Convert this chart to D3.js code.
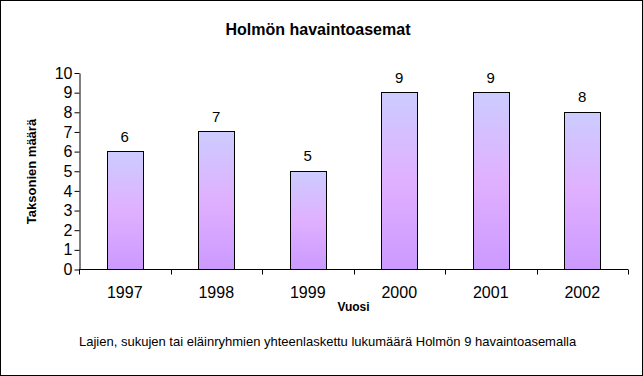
<!DOCTYPE html>
<html lang="fi">
<head>
    <meta charset="UTF-8">
    <title>Holmön havaintoasemat</title>
    <script src="https://cdn.jsdelivr.net/npm/d3@7"></script>
    <style>
        html, body { margin: 0; padding: 0; background: white; }
        svg { display: block; font-family: Arial, "Liberation Sans", sans-serif; }
    </style>
</head>
<body>
<script>
    // data
    var years = ["1997", "1998", "1999", "2000", "2001", "2002"];
    var counts = [6, 7, 5, 9, 9, 8];
    var yTicks = [0, 1, 2, 3, 4, 5, 6, 7, 8, 9, 10];

    var width = 643, height = 376;
    var margin = {top: 72.5, right: 15, bottom: 107, left: 79};

    var svg = d3.select("body").append("svg")
        .attr("width", width)
        .attr("height", height);

    // outer frame
    svg.append("rect")
        .attr("x", 0.5).attr("y", 0.5)
        .attr("width", width - 1).attr("height", height - 1)
        .attr("fill", "white").attr("stroke", "black");

    var defs = svg.append("defs");
    var grad = defs.append("linearGradient")
        .attr("id", "barfill")
        .attr("x1", 0).attr("y1", 0).attr("x2", 0).attr("y2", 1);
    grad.append("stop").attr("offset", "0%").attr("stop-color", "#ccccff");
    grad.append("stop").attr("offset", "50%").attr("stop-color", "#e0b0ff");
    grad.append("stop").attr("offset", "100%").attr("stop-color", "#cc99ff");

    var x = d3.scaleBand()
        .domain(years)
        .range([margin.left, width - margin.right])
        .paddingInner(0.61)
        .paddingOuter(0.305);

    var y = d3.scaleLinear()
        .domain([0, 10])
        .range([height - margin.bottom, margin.top]);

    // bars
    svg.selectAll(".bar")
        .data(counts)
        .enter().append("rect")
        .attr("class", "bar")
        .attr("x", function (d, i) { return Math.round(x(years[i])) + 0.5; })
        .attr("y", function (d) { return Math.round(y(d)) + 0.5; })
        .attr("width", Math.round(x.bandwidth()))
        .attr("height", function (d) { return Math.round(y(0)) - Math.round(y(d)); })
        .attr("fill", "url(#barfill)")
        .attr("stroke", "black")
        .attr("stroke-width", 1);

    // value labels
    svg.selectAll(".val")
        .data(counts)
        .enter().append("text")
        .attr("class", "val")
        .attr("x", function (d, i) { return x(years[i]) + x.bandwidth() / 2; })
        .attr("y", function (d) { return y(d) - 9.5; })
        .attr("text-anchor", "middle")
        .attr("font-size", "15px")
        .text(function (d) { return d; });

    // y axis
    var yAxis = svg.append("g")
        .attr("transform", "translate(" + (margin.left + 0.5) + ",0.5)")
        .call(d3.axisLeft(y).tickValues(yTicks).tickSize(5).tickPadding(2).tickSizeOuter(0));
    yAxis.selectAll("text").attr("font-size", "16px").attr("fill", "black")
        .attr("font-family", "Arial, 'Liberation Sans', sans-serif");
    yAxis.selectAll("line, path").attr("stroke", "black");

    // x axis with ticks between categories
    var xAxisG = svg.append("g")
        .attr("transform", "translate(0," + (Math.round(y(0)) + 0.5) + ")");
    xAxisG.append("line")
        .attr("x1", margin.left).attr("x2", width - margin.right)
        .attr("stroke", "black");
    var bounds = d3.range(years.length + 1).map(function (i) {
        return margin.left + i * (width - margin.left - margin.right) / years.length;
    });
    xAxisG.selectAll(".xt")
        .data(bounds)
        .enter().append("line")
        .attr("x1", function (d) { return Math.round(d) + 0.5; })
        .attr("x2", function (d) { return Math.round(d) + 0.5; })
        .attr("y1", 0).attr("y2", 5)
        .attr("stroke", "black");
    xAxisG.selectAll(".xl")
        .data(years)
        .enter().append("text")
        .attr("x", function (d) { return x(d) + x.bandwidth() / 2; })
        .attr("y", 28.5)
        .attr("text-anchor", "middle")
        .attr("font-size", "16px")
        .text(function (d) { return d; });

    // titles
    svg.append("text")
        .attr("x", 318).attr("y", 35)
        .attr("text-anchor", "middle")
        .attr("font-size", "16px").attr("font-weight", "bold")
        .text("Holmön havaintoasemat");

    svg.append("text")
        .attr("x", 353.5).attr("y", 311)
        .attr("text-anchor", "middle")
        .attr("font-size", "12px").attr("font-weight", "bold")
        .text("Vuosi");

    svg.append("text")
        .attr("transform", "translate(36,171.5) rotate(-90)")
        .attr("text-anchor", "middle")
        .attr("font-size", "13px").attr("font-weight", "bold")
        .text("Taksonien määrä");

    svg.append("text")
        .attr("x", 79).attr("y", 346)
        .attr("font-size", "13px")
        .text("Lajien, sukujen tai eläinryhmien yhteenlaskettu lukumäärä Holmön 9 havaintoasemalla");
</script>
</body>
</html>
